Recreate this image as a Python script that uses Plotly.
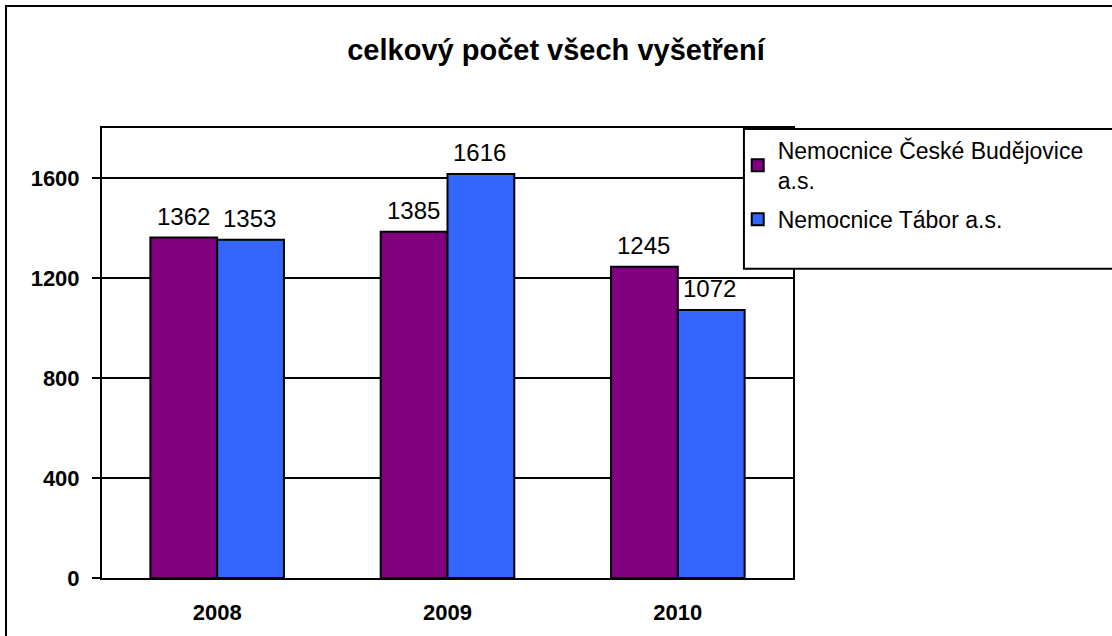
import plotly.graph_objects as go

years = ["2008", "2009", "2010"]
cb_values = [1362, 1385, 1245]
tabor_values = [1353, 1616, 1072]
series_names = ["Nemocnice České Budějovice<br>a.s.", "Nemocnice Tábor a.s."]
y_ticks = [0, 400, 800, 1200, 1600]

FONT = "Arial, Liberation Sans"

fig = go.Figure()
fig.add_trace(go.Bar(
    x=years, y=cb_values, name=series_names[0], legendgroup="cb",
    marker=dict(color="#800080", line=dict(color="black", width=2)),
))
fig.add_trace(go.Bar(
    x=years, y=tabor_values, name=series_names[1], legendgroup="tabor",
    marker=dict(color="#3366FF", line=dict(color="black", width=2)),
))

# value labels above each bar
for vals, shift in ((cb_values, -34), (tabor_values, 32)):
    for i, v in enumerate(vals):
        fig.add_annotation(x=i, y=v, xref="x", yref="y", text=str(v), showarrow=False,
                           xanchor="center", yanchor="bottom", xshift=shift, yshift=6,
                           font=dict(family=FONT, size=24, color="black"))

# outer chart frame and legend box
fig.add_shape(type="rect", xref="paper", yref="paper",
              x0=-0.1389, x1=1.47, y0=-0.2, y1=1.271,
              line=dict(color="black", width=2), fillcolor="rgba(0,0,0,0)", layer="below")
fig.add_shape(type="rect", xref="paper", yref="paper",
              x0=0.929, x1=1.47, y0=0.687, y1=0.998,
              line=dict(color="black", width=2), fillcolor="white", layer="above")

fig.update_layout(
    width=1112, height=636,
    margin=dict(l=102, r=319, t=128, b=58),
    paper_bgcolor="white", plot_bgcolor="white",
    barmode="group", bargap=0.42, bargroupgap=0,
    font=dict(family=FONT, color="black"),
    title=dict(text="<b>celkový počet všech vyšetření</b>", x=0.5, xref="container",
               xanchor="center", y=1 - 50 / 636, yanchor="middle",
               font=dict(size=29, color="black")),
    showlegend=True,
    legend=dict(x=0.92, y=0.998, xanchor="left", yanchor="top",
                bgcolor="rgba(0,0,0,0)", borderwidth=0,
                font=dict(size=23, color="black"), tracegroupgap=6),
)
fig.update_xaxes(
    type="category", range=[-0.5, len(years) - 0.5],
    showline=True, linecolor="black", linewidth=2, mirror=True,
    ticks="", tickfont=dict(size=22, color="black", family=FONT),
    tickprefix="<b>", ticksuffix="</b>", ticklabelstandoff=14,
)
fig.update_yaxes(
    range=[0, 1800], tickvals=y_ticks, ticktext=[f"<b>{v}</b>" for v in y_ticks],
    showline=True, linecolor="black", linewidth=2, mirror=True,
    showgrid=True, gridcolor="black", gridwidth=2, zeroline=False,
    ticks="outside", ticklen=8, tickcolor="black", tickwidth=2,
    ticklabelstandoff=8,
    tickfont=dict(size=22, color="black", family=FONT),
)

fig.write_html("out.html")
